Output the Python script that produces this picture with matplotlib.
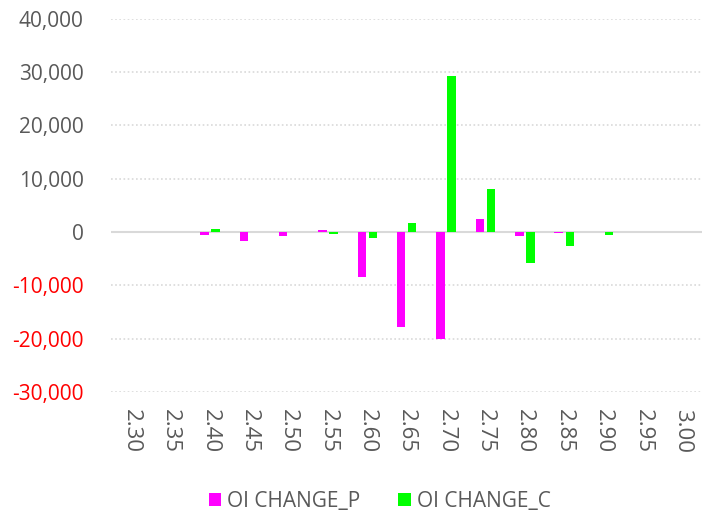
import numpy as np
import matplotlib
matplotlib.use("Agg")
import matplotlib.pyplot as plt

plt.rcParams['font.family'] = ['Open Sans', 'DejaVu Sans']

strikes = ["2.30", "2.35", "2.40", "2.45", "2.50", "2.55", "2.60", "2.65",
           "2.70", "2.75", "2.80", "2.85", "2.90", "2.95", "3.00"]
oi_change_p = [0, 0, -600, -1600, -800, 300, -8400, -17850,
               -20150, 2400, -800, -100, 0, 0, 0]
oi_change_c = [0, 0, 500, 0, 0, -300, -1200, 1600,
               29300, 8100, -5750, -2700, -600, 0, 0]
y_ticks = [-30000, -20000, -10000, 0, 10000, 20000, 30000, 40000]

text_col = "#595959"
grid_col = "#d9d9d9"

fig = plt.figure(figsize=(7.03, 5.13), dpi=100)
ax = fig.add_axes([0.1586, 0.2359, 0.8400, 0.7276])

x = np.arange(len(strikes))
w = 0.215
off = 0.14
ax.bar(x - off, oi_change_p, width=w, color="#FF00FF", label="OI CHANGE_P", zorder=3)
ax.bar(x + off, oi_change_c, width=w, color="#00FF00", label="OI CHANGE_C", zorder=3)

ax.set_xlim(-0.5, len(strikes) - 0.5)
ax.set_ylim(-30000, 40000)

# gridlines: dotted, zero line solid
for t in y_ticks:
    if t == 0:
        ax.axhline(t, color=grid_col, lw=1.5, zorder=2)
    else:
        ax.axhline(t, color=grid_col, lw=1.2, ls=(0, (1, 1.5)), zorder=1)

ax.set_yticks(y_ticks)
ax.set_yticklabels([f"{t:,}" for t in y_ticks])
for lbl, t in zip(ax.get_yticklabels(), y_ticks):
    lbl.set_color("#FF0000" if t < 0 else text_col)
    lbl.set_fontsize(15)

ax.set_xticks(x)
ax.set_xticklabels(strikes, rotation=-90, fontsize=16, color=text_col)

ax.tick_params(axis='y', length=0, pad=20)
ax.tick_params(axis='x', length=0, pad=12)
for s in ax.spines.values():
    s.set_visible(False)

leg = fig.legend(loc="center", bbox_to_anchor=(0.54, 0.022), ncol=2, frameon=False,
                 fontsize=15, handlelength=0.6, handleheight=0.6, handletextpad=0.3,
                 columnspacing=1.8)
for t in leg.get_texts():
    t.set_color(text_col)

fig.savefig("out.png", dpi=100)
